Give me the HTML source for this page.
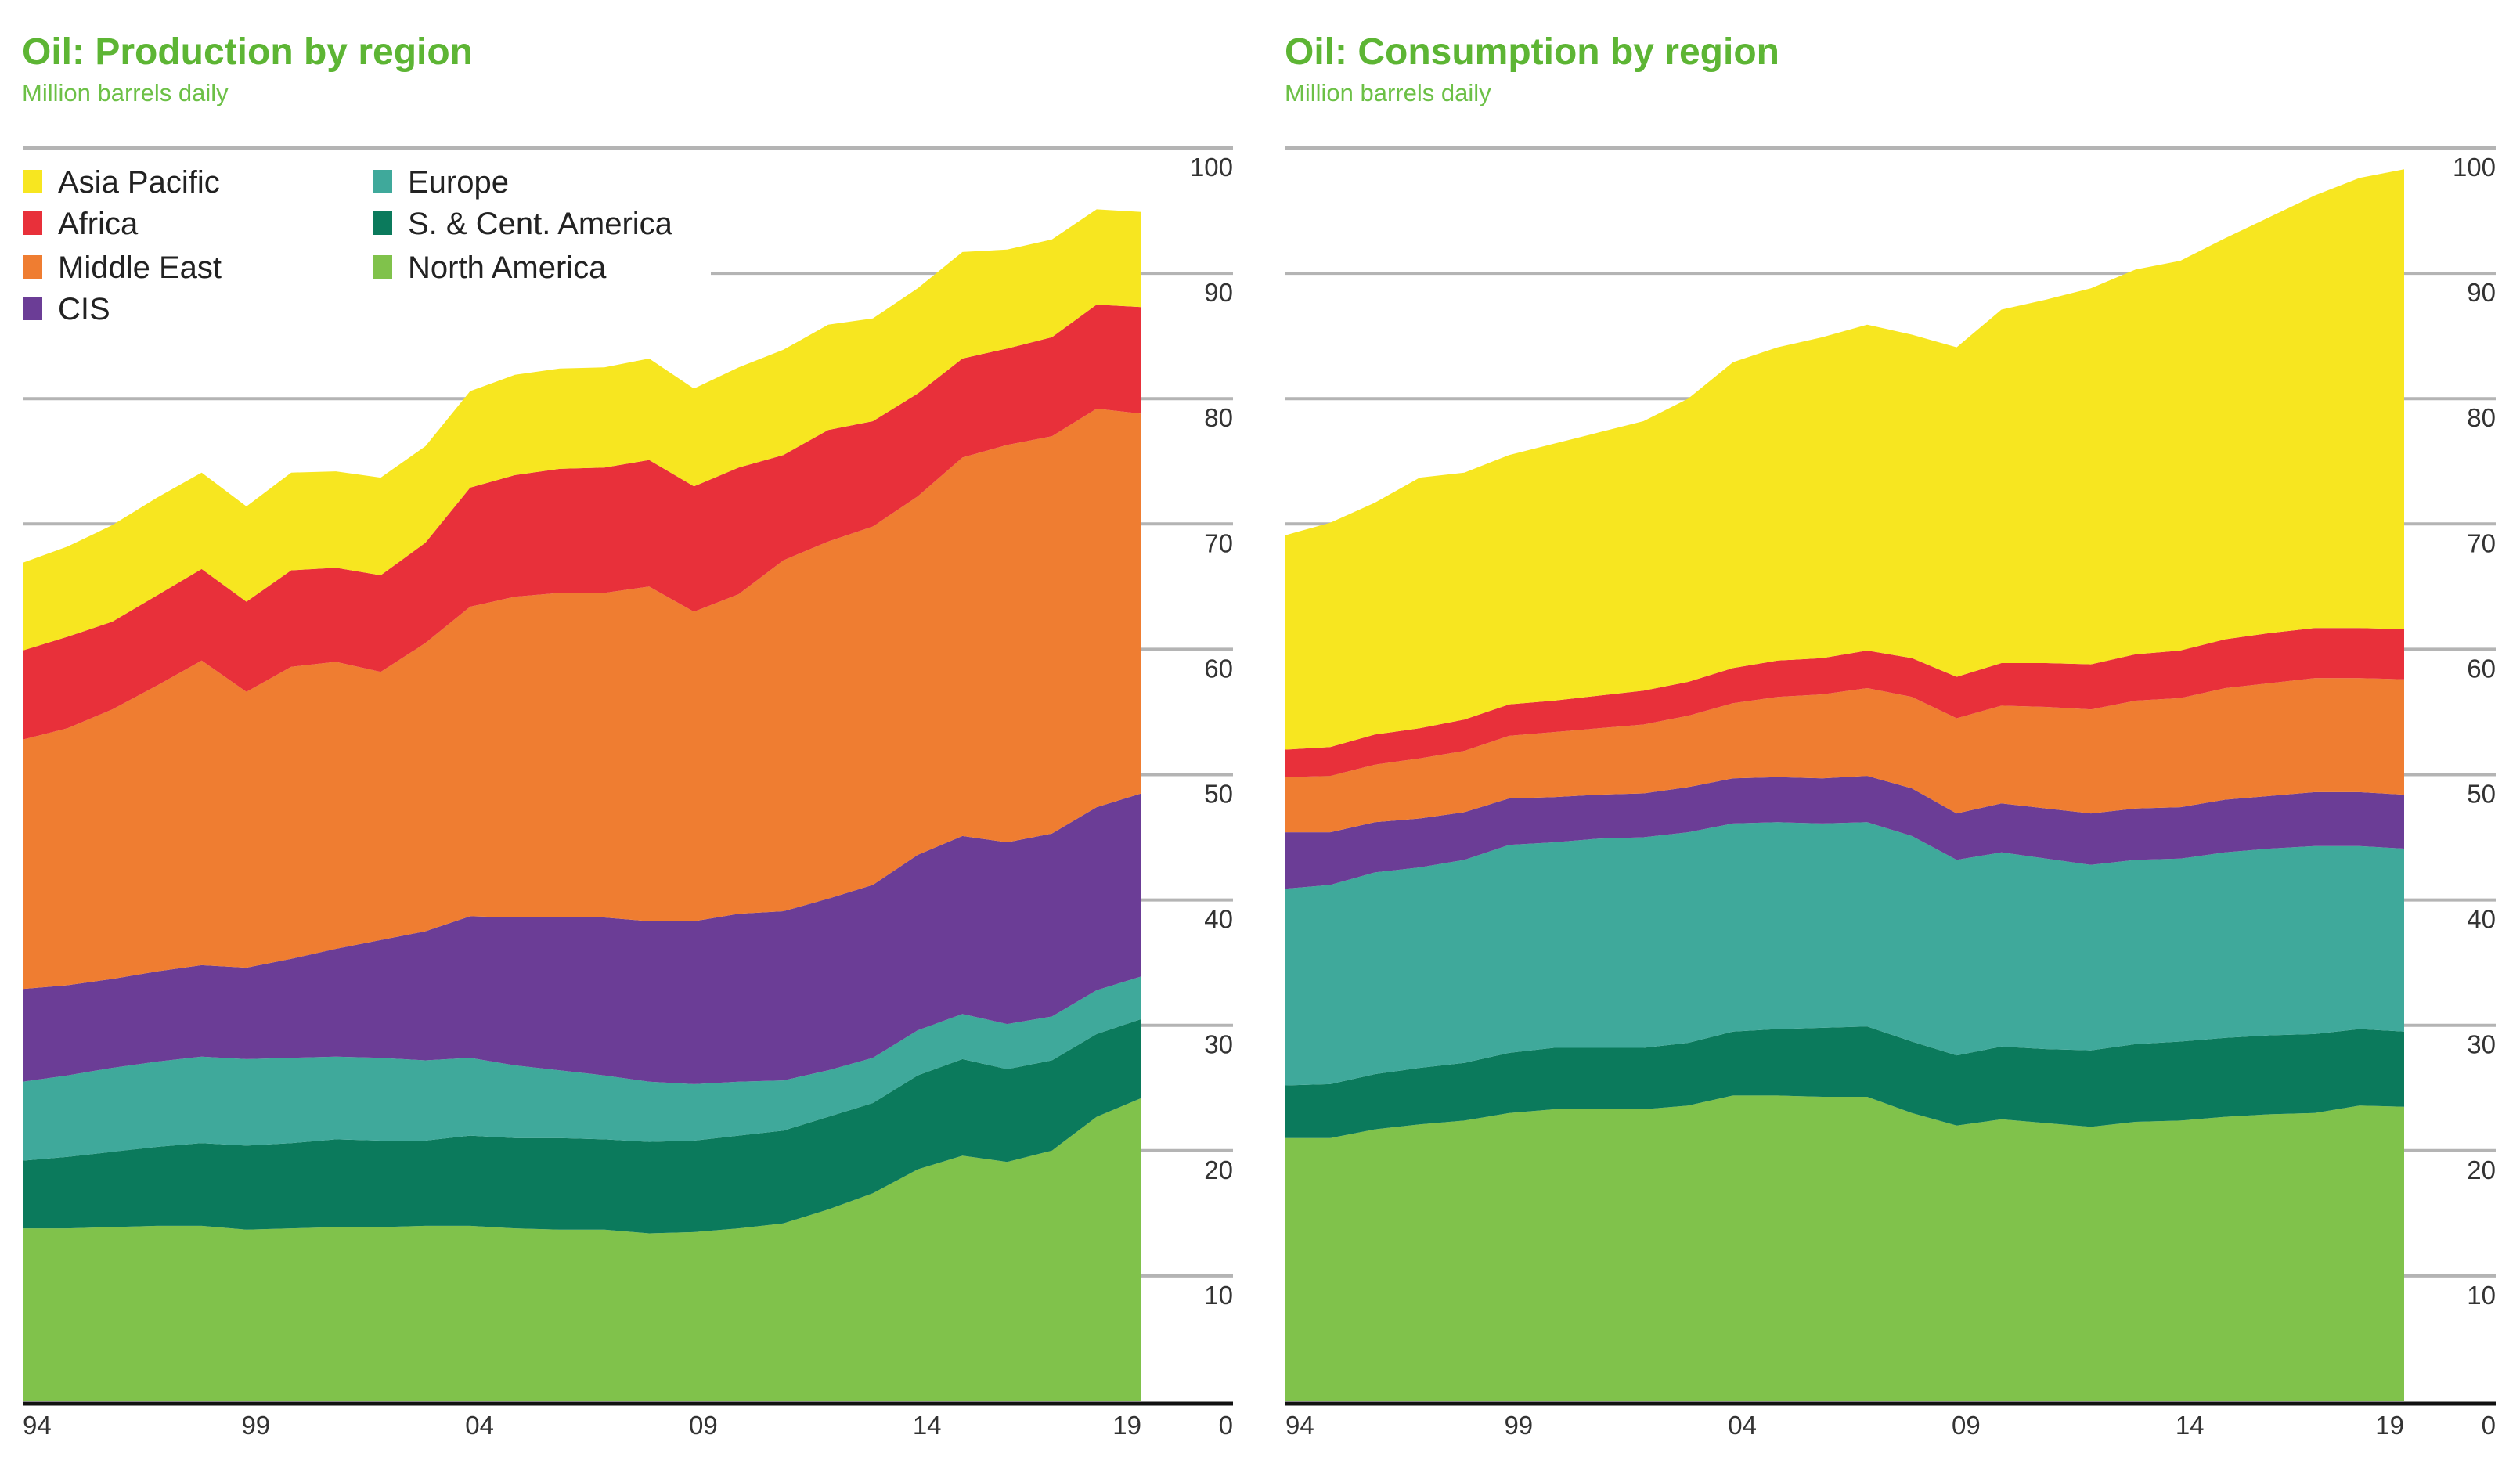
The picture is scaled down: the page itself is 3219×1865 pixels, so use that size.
<!DOCTYPE html>
<html><head><meta charset="utf-8"><style>
html,body{margin:0;padding:0;background:#fff;}
svg{display:block;font-family:"Liberation Sans",sans-serif;}
</style></head><body>
<svg id="c" width="3219" height="1865" viewBox="0 0 3219 1865">
<text x="28" y="82" font-size="48" font-weight="bold" fill="#5db534">Oil: Production by region</text>
<text x="28" y="129" font-size="31" fill="#6cc046">Million barrels daily</text>
<text x="1641" y="82" font-size="48" font-weight="bold" fill="#5db534">Oil: Consumption by region</text>
<text x="1641" y="129" font-size="31" fill="#6cc046">Million barrels daily</text>
<g id="grids"></g><g id="areas"></g><g id="axes"></g><g id="legend"></g>
</svg>
<script>
const years = ["94","95","96","97","98","99","00","01","02","03","04","05","06","07","08","09","10","11","12","13","14","15","16","17","18","19"];
const regions = ["North America","S. & Cent. America","Europe","CIS","Middle East","Africa","Asia Pacific"];
const colors = ["#80c24b","#0b7a5c","#3fa99b","#6b3d96","#ef7d31","#e8303a","#f7e620"];
const yTicks = [10,20,30,40,50,60,70,80,90,100];
const yearTicks = ["94","99","04","09","14","19"];
// Production (million b/d), stacked bottom to top
const prodNA  = [13.8,13.8,13.9,14.0,14.0,13.7,13.8,13.9,13.9,14.0,14.0,13.8,13.7,13.7,13.4,13.5,13.8,14.2,15.3,16.6,18.5,19.6,19.1,20.0,22.7,24.2];
const prodSCA = [5.4,5.7,6.0,6.3,6.6,6.7,6.8,7.0,6.9,6.8,7.2,7.2,7.3,7.2,7.3,7.3,7.4,7.4,7.4,7.2,7.5,7.7,7.4,7.2,6.6,6.3];
const prodEU  = [6.3,6.5,6.7,6.8,6.9,6.9,6.8,6.6,6.6,6.4,6.2,5.8,5.4,5.1,4.8,4.5,4.3,4.0,3.7,3.6,3.6,3.6,3.6,3.5,3.5,3.4];
const prodCIS = [7.4,7.2,7.1,7.2,7.3,7.3,7.9,8.6,9.4,10.3,11.3,11.8,12.2,12.6,12.8,13.0,13.4,13.5,13.7,13.8,14.0,14.2,14.5,14.6,14.6,14.6];
const prodME  = [19.9,20.5,21.5,22.8,24.3,22.0,23.3,22.9,21.4,23.0,24.7,25.6,25.9,25.9,26.7,24.7,25.5,28.0,28.5,28.6,28.6,30.2,31.7,31.7,31.8,30.3];
const prodAF  = [7.1,7.3,7.0,7.2,7.3,7.2,7.7,7.5,7.7,8.0,9.5,9.7,9.9,10.0,10.1,10.0,10.1,8.4,8.9,8.4,8.2,7.9,7.7,7.9,8.3,8.5];
const prodAP  = [7.0,7.2,7.7,7.8,7.7,7.6,7.8,7.7,7.8,7.7,7.7,8.0,8.0,8.0,8.1,7.8,8.0,8.4,8.4,8.2,8.4,8.5,7.9,7.8,7.6,7.6];
// Consumption
const consNA  = [21.0,21.0,21.7,22.1,22.4,23.0,23.3,23.3,23.3,23.6,24.4,24.4,24.3,24.3,23.0,22.0,22.5,22.2,21.9,22.3,22.4,22.7,22.9,23.0,23.6,23.5];
const consSCA = [4.2,4.3,4.4,4.5,4.6,4.8,4.9,4.9,4.9,5.0,5.1,5.3,5.5,5.6,5.7,5.6,5.8,5.9,6.1,6.2,6.3,6.3,6.3,6.3,6.1,6.0];
const consEU  = [15.7,15.9,16.1,16.0,16.2,16.6,16.4,16.7,16.8,16.8,16.6,16.5,16.3,16.3,16.4,15.6,15.5,15.2,14.8,14.7,14.6,14.8,14.9,15.0,14.6,14.6];
const consCIS = [4.5,4.2,4.0,3.9,3.8,3.7,3.6,3.5,3.5,3.6,3.6,3.6,3.6,3.7,3.8,3.7,3.9,4.0,4.1,4.1,4.1,4.2,4.2,4.3,4.3,4.3];
const consME  = [4.4,4.5,4.6,4.8,4.9,5.0,5.2,5.3,5.5,5.7,6.0,6.4,6.7,7.0,7.3,7.6,7.8,8.1,8.3,8.6,8.7,8.9,9.0,9.1,9.1,9.2];
const consAF  = [2.2,2.3,2.4,2.4,2.5,2.5,2.5,2.6,2.7,2.7,2.8,2.9,2.9,3.0,3.1,3.3,3.4,3.5,3.6,3.7,3.8,3.9,4.0,4.0,4.0,4.0];
const consAP  = [17.1,17.9,18.5,20.0,19.7,19.9,20.5,21.0,21.5,22.6,24.4,25.0,25.6,26.0,25.8,26.3,28.2,29.0,30.0,30.7,31.1,32.0,33.2,34.5,35.9,36.7];

const NS="http://www.w3.org/2000/svg";
function mk(tag,attrs,parent){const e=document.createElementNS(NS,tag);for(const k in attrs)e.setAttribute(k,attrs[k]);parent.appendChild(e);return e;}
const Y0=1790, Y100=189;
function yScale(v){return Y0-(Y100-Y0)*-1*v/100*-1+ (0);} 
function ys(v){return Y0+(Y100-Y0)*v/100;}
const grids=document.getElementById('grids'), areas=document.getElementById('areas'), axes=document.getElementById('axes'), legend=document.getElementById('legend');

function chart(key,x0,x1,gridEnd,series,gridStarts){
  const xs=i=>x0+(x1-x0)*i/(years.length-1);
  yTicks.forEach(t=>{
    const gs=(gridStarts&&gridStarts[t])||x0;
    const l=mk('line',{x1:gs,x2:gridEnd,y1:ys(t),y2:ys(t),stroke:'#b4b4b4','stroke-width':4},grids);
    
    
    const tx=mk('text',{x:gridEnd,y:ys(t)+36,'text-anchor':'end','font-size':33,fill:'#333'},axes);
    tx.textContent=t;
    
    
  });
  let base=years.map(()=>0);
  series.forEach((s,si)=>{
    const top=base.map((b,i)=>b+s[i]);
    let d='M'+years.map((_,i)=>xs(i).toFixed(1)+','+ys(top[i]).toFixed(1)).join(' L');
    for(let i=years.length-1;i>=0;i--)d+=' L'+xs(i).toFixed(1)+','+ys(base[i]).toFixed(1);
    const p=mk('path',{d:d+'Z',fill:colors[si]},areas);
    
    
    base=top;
  });
  const z=mk('line',{x1:x0,x2:gridEnd,y1:Y0+3,y2:Y0+3,stroke:'#111','stroke-width':5},axes);
  
  
  const z0=mk('text',{x:gridEnd,y:1832,'text-anchor':'end','font-size':33,fill:'#333'},axes);
  z0.textContent='0';
  
  
  yearTicks.forEach((yr,k)=>{
    const i=years.indexOf(yr);
    const anchor=k===0?'start':(k===yearTicks.length-1?'end':'middle');
    const t=mk('text',{x:xs(i)+(anchor==='middle'?12:0),y:1832,'text-anchor':anchor,'font-size':33,fill:'#333'},axes);
    t.textContent=yr;
    
    
  });
}
chart('production',29,1458,1575,[prodNA,prodSCA,prodEU,prodCIS,prodME,prodAF,prodAP],{90:908});
chart('consumption',1642,3071,3188,[consNA,consSCA,consEU,consCIS,consME,consAF,consAP],null);

const legendOrder=[[6,29,232],[5,29,285],[4,29,341],[3,29,394],[2,476,232],[1,476,285],[0,476,341]];
legendOrder.forEach(([ri,x,y])=>{
  const g=mk('g',{},legend);
  
  
  mk('rect',{x:x,y:y-15,width:25,height:30,fill:colors[ri]},g);
  const t=mk('text',{x:x+45,y:y+14,'font-size':40,fill:'#222'},g);
  t.textContent=regions[ri];
});
</script>
</body></html>
